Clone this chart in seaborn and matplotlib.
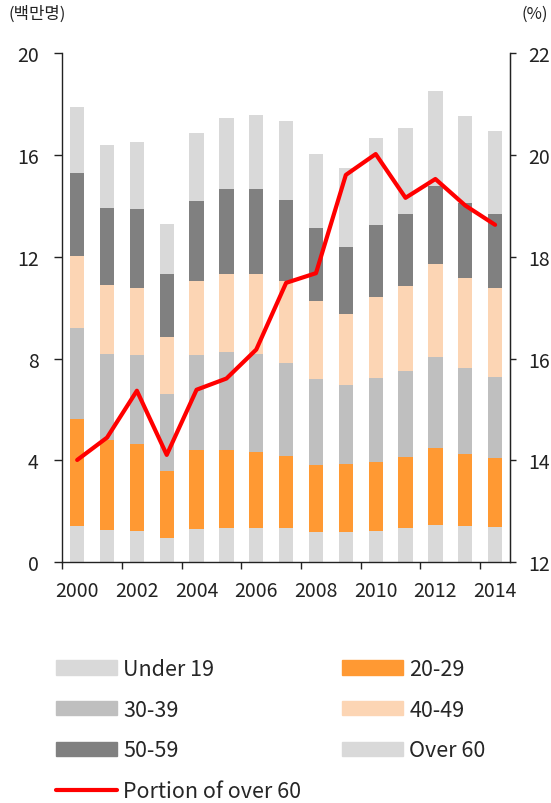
import numpy as np
import pandas as pd
import seaborn as sns
import matplotlib.pyplot as plt
from matplotlib.patches import Patch
from matplotlib.lines import Line2D

# data (millions of people, by age group) and share of over 60 (%)
years = list(range(2000, 2015))
under19 = [1.44, 1.27, 1.23, 0.96, 1.30, 1.35, 1.36, 1.34, 1.20, 1.20, 1.23, 1.34, 1.47, 1.43, 1.40]
age20s = [4.19, 3.53, 3.40, 2.64, 3.11, 3.07, 2.97, 2.83, 2.64, 2.67, 2.72, 2.80, 3.03, 2.84, 2.70]
age30s = [3.59, 3.38, 3.51, 3.01, 3.73, 3.83, 3.84, 3.66, 3.37, 3.10, 3.31, 3.39, 3.58, 3.36, 3.19]
age40s = [2.80, 2.70, 2.62, 2.24, 2.91, 3.09, 3.14, 3.24, 3.04, 2.79, 3.16, 3.33, 3.65, 3.54, 3.49]
age50s = [3.27, 3.05, 3.14, 2.49, 3.15, 3.31, 3.35, 3.16, 2.87, 2.62, 2.84, 2.84, 3.07, 2.94, 2.91]
over60 = [2.58, 2.45, 2.62, 1.96, 2.68, 2.82, 2.92, 3.10, 2.92, 3.10, 3.42, 3.35, 3.71, 3.42, 3.27]
portion60 = [14.01, 14.45, 15.37, 14.11, 15.39, 15.61, 16.18, 17.49, 17.68, 19.61, 20.02, 19.16, 19.53, 19.01, 18.63]

groups = ['Under 19', '20-29', '30-39', '40-49', '50-59', 'Over 60']
colors = ['#d9d9d9', '#ff9933', '#bfbfbf', '#fcd5b4', '#808080', '#d9d9d9']

df = pd.DataFrame({'year': years, 'Under 19': under19, '20-29': age20s, '30-39': age30s,
                   '40-49': age40s, '50-59': age50s, 'Over 60': over60})
cum = df[groups].cumsum(axis=1)

sns.set_style('ticks')
plt.rcParams['font.family'] = ['Noto Sans CJK KR', 'DejaVu Sans']

fig = plt.figure(figsize=(5.51, 8.04), dpi=100)
ax = fig.add_axes([0.113, 0.2994, 0.8126, 0.6331])

# stacked bars: draw cumulative totals from the top down
for g, c in zip(groups[::-1], colors[::-1]):
    sns.barplot(x=df['year'], y=cum[g], color=c, saturation=1, width=0.48,
                native_scale=True, errorbar=None, edgecolor='none', ax=ax)

ax.set_xlim(1999.5, 2014.5)
ax.set_ylim(0, 20)
ax.set_yticks(range(0, 21, 4))
ax.set_xticks(range(2000, 2015, 2))
ax.set_xticks(np.arange(1999.5, 2014, 2), minor=True)
ax.tick_params(axis='x', which='major', length=0, pad=13, labelsize=14, colors='#222222')
ax.tick_params(axis='x', which='minor', length=5, width=1, color='#222222')
ax.tick_params(axis='y', length=6, width=1, labelsize=14, colors='#222222', pad=11)
ax.set_xlabel('')
ax.set_ylabel('')
for s in ['left', 'bottom', 'right']:
    ax.spines[s].set_color('#222222')
    ax.spines[s].set_linewidth(1)
ax.spines['top'].set_visible(False)

ax2 = ax.twinx()
sns.lineplot(x=years, y=portion60, color='#ff0000', linewidth=3, ax=ax2)
ax2.set_ylim(12, 22)
ax2.set_yticks(range(12, 23, 2))
ax2.tick_params(axis='y', length=4, width=1, labelsize=14, colors='#222222', pad=9)
ax2.spines['top'].set_visible(False)
ax2.spines['right'].set_color('#222222')
ax2.spines['left'].set_visible(False)
ax2.spines['bottom'].set_visible(False)

fig.text(8 / 551, 1 - 14 / 804, '(백만명)', fontsize=12, va='center', ha='left', color='#222222')
fig.text(548 / 551, 1 - 14 / 804, '(%)', fontsize=12, va='center', ha='right', color='#222222')

handles = [Patch(color=colors[0], label='Under 19'),
           Patch(color=colors[2], label='30-39'),
           Patch(color=colors[4], label='50-59'),
           Line2D([], [], color='#ff0000', lw=3, label='Portion of over 60'),
           Patch(color=colors[1], label='20-29'),
           Patch(color=colors[3], label='40-49'),
           Patch(color=colors[5], label='Over 60')]
fig.legend(handles=handles, ncol=2, loc='upper left', bbox_to_anchor=(56 / 551, 1 - 659 / 804),
           frameon=False, fontsize=15.5, handlelength=2.84, handleheight=0.65, handletextpad=0.28,
           columnspacing=1.9, labelspacing=0.87, borderpad=0, borderaxespad=0)

fig.savefig('out.png', dpi=100)
